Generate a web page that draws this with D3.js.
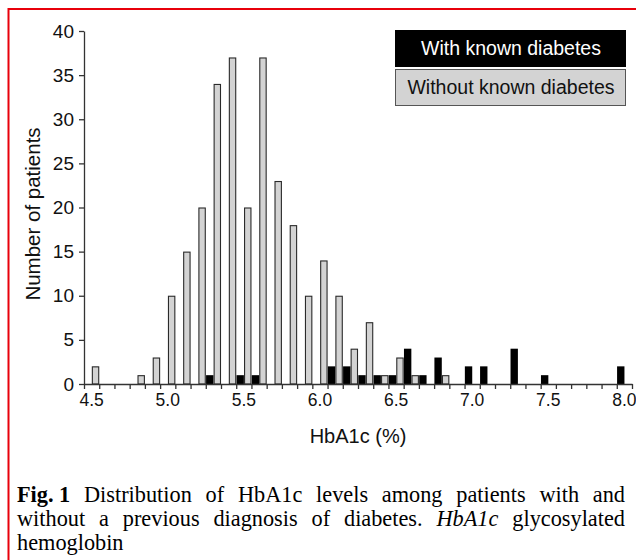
<!DOCTYPE html>
<html>
<head>
<meta charset="utf-8">
<script src="https://cdn.jsdelivr.net/npm/d3@7"></script>
<style>
  body { margin: 0; background: #fff; }
  svg { display: block; }
</style>
</head>
<body>
<div id="okvir"></div>
<script>
// HbA1c bins (0.1 % steps)
const kategorije = ["4.5","4.6","4.7","4.8","4.9","5.0","5.1","5.2","5.3","5.4","5.5","5.6","5.7","5.8","5.9","6.0",
  "6.1","6.2","6.3","6.4","6.5","6.6","6.7","6.8","6.9","7.0","7.1","7.2","7.3","7.4","7.5","7.6","7.7","7.8","7.9","8.0"];
// number of patients with known diabetes (black)
const saDijabetesom = [0,0,0,0,0,0,0,0,1,0,1,1,0,0,0,0,
  2,2,1,1,1,4,1,3,0,2,2,0,4,0,1,0,0,0,0,2];
// number of patients without known diabetes (grey)
const bezDijabetesa = [2,0,0,1,3,10,15,20,34,37,20,37,23,18,10,14,
  10,4,7,1,3,1,0,1,0,0,0,0,0,0,0,0,0,0,0,0];
const xOznake = ["4.5","5.0","5.5","6.0","6.5","7.0","7.5","8.0"];
const yOznake = [0,5,10,15,20,25,30,35,40];
const legenda = ["With known diabetes","Without known diabetes"];

const dim = {
  sirina: 636,
  visina: 560,
  lijevo: 84,
  desno: 632,
  gore: 31,
  dolje: 384
};
const font = "'Liberation Sans', Arial, sans-serif";

const okvir = d3.select("#okvir")
  .append("svg")
  .attr("width", dim.sirina)
  .attr("height", dim.visina);

// red frame (runs off the right and bottom edge)
okvir.append("path")
  .attr("d", `M${dim.sirina + 5},9 H8.5 V${dim.visina + 5}`)
  .attr("fill", "none")
  .attr("stroke", "#e8000b")
  .attr("stroke-width", 2);

const xSkala = d3.scaleBand()
  .domain(kategorije)
  .range([dim.lijevo, dim.desno])
  .padding(0);

const xPod = d3.scaleBand()
  .domain(["sa", "bez"])
  .range([0, xSkala.bandwidth()])
  .paddingInner(0.06);

const xRubovi = d3.scaleLinear()
  .domain([0, kategorije.length])
  .range([dim.lijevo, dim.desno]);

const ySkala = d3.scaleLinear()
  .domain([0, 40])
  .range([dim.dolje, dim.gore]);

const podaci = kategorije.map((k, i) => ({ k: k, sa: saDijabetesom[i], bez: bezDijabetesa[i] }));

// grey bars
okvir.append("g")
  .selectAll("rect")
  .data(podaci.filter(d => d.bez > 0))
  .join("rect")
  .attr("x", d => xSkala(d.k) + xPod("bez") + 0.5)
  .attr("y", d => ySkala(d.bez) + 0.5)
  .attr("width", xPod.bandwidth() - 1)
  .attr("height", d => ySkala(0) - ySkala(d.bez) - 0.5)
  .attr("fill", "#d3d3d3")
  .attr("stroke", "#2a2a2a")
  .attr("stroke-width", 1.1);

// black bars
okvir.append("g")
  .selectAll("rect")
  .data(podaci.filter(d => d.sa > 0))
  .join("rect")
  .attr("x", d => xSkala(d.k) + xPod("sa") + 0.3)
  .attr("y", d => ySkala(d.sa))
  .attr("width", xPod.bandwidth())
  .attr("height", d => ySkala(0) - ySkala(d.sa))
  .attr("fill", "#000");

// x axis: tick marks on bin edges
const xOs = okvir.append("g")
  .attr("transform", `translate(0,${dim.dolje})`)
  .call(d3.axisBottom(xRubovi)
    .tickValues(d3.range(kategorije.length + 1))
    .tickFormat("")
    .tickSize(5)
    .tickSizeOuter(0));
xOs.selectAll("path, line").attr("stroke", "#333").attr("stroke-width", 1.3);

// x labels in the middle of the bins
okvir.append("g")
  .attr("transform", `translate(0,${dim.dolje})`)
  .call(d3.axisBottom(xSkala).tickValues(xOznake).tickSize(0).tickPadding(10))
  .call(g => g.select(".domain").remove())
  .selectAll("text")
  .attr("font-family", font)
  .attr("font-size", 17.5)
  .attr("fill", "#111");

const yOs = okvir.append("g")
  .attr("transform", `translate(${dim.lijevo},0)`)
  .call(d3.axisLeft(ySkala).tickValues(yOznake).tickSize(5).tickSizeOuter(0).tickPadding(5));
yOs.selectAll("path, line").attr("stroke", "#333").attr("stroke-width", 1.3);
yOs.selectAll("text")
  .attr("font-family", font)
  .attr("font-size", 19)
  .attr("fill", "#111");

okvir.append("text")
  .attr("x", (dim.lijevo + dim.desno) / 2)
  .attr("y", 443)
  .attr("text-anchor", "middle")
  .attr("font-family", font)
  .attr("font-size", 20)
  .attr("fill", "#111")
  .text("HbA1c (%)");

okvir.append("text")
  .attr("transform", "rotate(-90)")
  .attr("x", -214)
  .attr("y", 40)
  .attr("text-anchor", "middle")
  .attr("font-family", font)
  .attr("font-size", 20.5)
  .attr("fill", "#111")
  .text("Number of patients");

// legend
const leg = okvir.append("g").attr("transform", "translate(395,30)");
leg.selectAll("rect")
  .data(legenda)
  .join("rect")
  .attr("x", 0.5)
  .attr("y", (d, i) => i * 39 + 0.5)
  .attr("width", 230)
  .attr("height", 36)
  .attr("fill", (d, i) => i === 0 ? "#000" : "#d3d3d3")
  .attr("stroke", (d, i) => i === 0 ? "#000" : "#555")
  .attr("stroke-width", 1);
leg.selectAll("text")
  .data(legenda)
  .join("text")
  .attr("x", 116)
  .attr("y", (d, i) => i * 39 + 25)
  .attr("text-anchor", "middle")
  .attr("font-family", font)
  .attr("font-size", 19.5)
  .attr("fill", (d, i) => i === 0 ? "#fff" : "#111")
  .text(d => d);

// caption, justified by hand
const opis = [
  { y: 502, just: true, rijeci: [["Fig. 1", "b"], ["Distribution"], ["of"], ["HbA1c"], ["levels"], ["among"], ["patients"], ["with"], ["and"]] },
  { y: 526, just: true, rijeci: [["without"], ["a"], ["previous"], ["diagnosis"], ["of"], ["diabetes."], ["HbA1c", "i"], ["glycosylated"]] },
  { y: 550, just: false, rijeci: [["hemoglobin"]] }
];
const opisL = 17, opisD = 625;
opis.forEach(red => {
  const tekstovi = red.rijeci.map(r => okvir.append("text")
    .attr("y", red.y)
    .attr("font-family", "'Liberation Serif', 'Times New Roman', serif")
    .attr("font-size", 22.3)
    .attr("font-weight", r[1] === "b" ? "bold" : "normal")
    .attr("font-style", r[1] === "i" ? "italic" : "normal")
    .attr("fill", "#000")
    .text(r[0]));
  const sirine = tekstovi.map(t => t.node().getComputedTextLength());
  const ukupno = d3.sum(sirine);
  const razmak = red.just && tekstovi.length > 1 ? (opisD - opisL - ukupno) / (tekstovi.length - 1) : 5;
  let x = opisL;
  tekstovi.forEach((t, i) => {
    t.attr("x", x);
    x += sirine[i] + razmak;
  });
});
</script>
</body>
</html>
